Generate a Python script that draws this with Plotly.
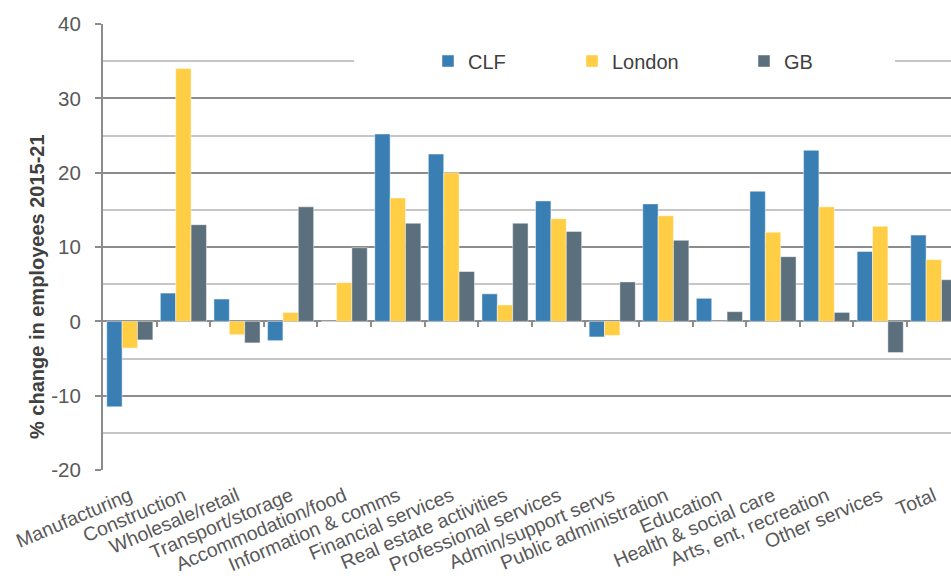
import plotly.graph_objects as go

# Sectors on the category axis
sectors = [
    "Manufacturing", "Construction", "Wholesale/retail", "Transport/storage",
    "Accommodation/food", "Information & comms", "Financial services",
    "Real estate activities", "Professional services", "Admin/support servs",
    "Public administration", "Education", "Health & social care",
    "Arts, ent, recreation", "Other services", "Total",
]

# % change in employees 2015-21 by area
clf = [-11.5, 3.8, 3.0, -2.6, 0.0, 25.2, 22.5, 3.7, 16.2, -2.1, 15.8, 3.1, 17.5, 23.0, 9.4, 11.6]
london = [-3.6, 34.0, -1.8, 1.2, 5.2, 16.6, 20.0, 2.2, 13.8, -1.9, 14.2, 0.0, 12.0, 15.4, 12.8, 8.3]
gb = [-2.5, 13.0, -2.9, 15.4, 9.9, 13.2, 6.7, 13.2, 12.1, 5.3, 10.9, 1.3, 8.7, 1.2, -4.2, 5.6]

series = [("CLF", clf, "#3A7FB4"), ("London", london, "#FFCE44"), ("GB", gb, "#5B6F7C")]

y_range = [-20, 40]
y_major = [-20, -10, 0, 10, 20, 30, 40]
y_labels = [str(v) for v in y_major]  # plain hyphen minus

W, H = 951, 586
ML, MR, MT, MB = 103, 0, 24, 116
plot_w = W - ML - MR
plot_h = H - MT - MB
cat_px = 53.6  # width of one category slot
x_range = [-0.5, -0.5 + plot_w / cat_px]


def px_x(px):
    return (px - ML) / plot_w


def px_y(py):
    return (H - MB - py) / plot_h


font = "Liberation Sans, Arial, sans-serif"
fig = go.Figure()

legend_px = [428, 572, 744]
for i, (name, vals, col) in enumerate(series):
    lg = "legend" if i == 0 else f"legend{i + 1}"
    fig.add_trace(go.Bar(
        x=sectors, y=vals, name=name,
        marker=dict(color=col, line=dict(color="rgba(255,255,255,0.45)", width=1)),
        legend=lg,
    ))

# Helper trace that carries the tick marks along the zero line
fig.add_trace(go.Scatter(x=[], y=[], xaxis="x2", yaxis="y", showlegend=False, hoverinfo="skip"))

legend_common = dict(
    orientation="h", yanchor="middle", xanchor="left",
    bgcolor="rgba(255,255,255,0)", borderwidth=0,
    font=dict(family=font, size=20, color="#404040"),
)
layout_legends = {}
for i, lx in enumerate(legend_px):
    key = "legend" if i == 0 else f"legend{i + 1}"
    layout_legends[key] = dict(legend_common, x=px_x(lx), y=px_y(61))

fig.update_layout(
    width=W, height=H,
    margin=dict(l=ML, r=MR, t=MT, b=MB, pad=0),
    paper_bgcolor="white", plot_bgcolor="white",
    barmode="group", bargap=0.14, bargroupgap=0,
    font=dict(family=font, color="#595959"),
    showlegend=True,
    **layout_legends,
    xaxis=dict(
        type="category", categoryorder="array", categoryarray=sectors,
        range=x_range, showgrid=False, zeroline=False, showline=False,
        ticks="", tickangle=-23, tickfont=dict(size=19.5, color="#595959"),
        ticklabelstandoff=10,
    ),
    xaxis2=dict(
        type="linear", overlaying="x", anchor="free",
        position=(0 - y_range[0]) / (y_range[1] - y_range[0]),
        range=x_range,
        tickmode="array", tickvals=[k + 0.5 for k in range(len(sectors) - 1)],
        ticks="outside", ticklen=5, tickwidth=1.5, tickcolor="#8c8c8c",
        showticklabels=False, showgrid=False, zeroline=False, showline=False,
    ),
    yaxis=dict(
        range=y_range, tickmode="array", tickvals=y_major, ticktext=y_labels,
        showgrid=True, gridcolor="#8c8c8c", gridwidth=1.5,
        minor=dict(dtick=5, tick0=0, showgrid=True, gridcolor="#c6c6c6", gridwidth=1.5),
        zeroline=True, zerolinecolor="#8c8c8c", zerolinewidth=2,
        showline=True, linecolor="#8c8c8c", linewidth=2,
        ticks="outside", ticklen=6, tickwidth=1.5, tickcolor="#8c8c8c",
        tickfont=dict(size=20.5, color="#595959"), ticklabelstandoff=10,
    ),
    shapes=[dict(
        type="rect", xref="paper", yref="y",
        x0=px_x(354), x1=px_x(895), y0=33.8, y1=36.2,
        fillcolor="white", line=dict(width=0), layer="above",
    )],
    annotations=[dict(
        text="% change in employees 2015-21", textangle=-90,
        xref="paper", yref="paper", x=px_x(37), y=px_y(287),
        xanchor="center", yanchor="middle", showarrow=False,
        font=dict(family=font, size=20, color="#404040", weight="bold"),
    )],
)

fig.write_html("out.html")
